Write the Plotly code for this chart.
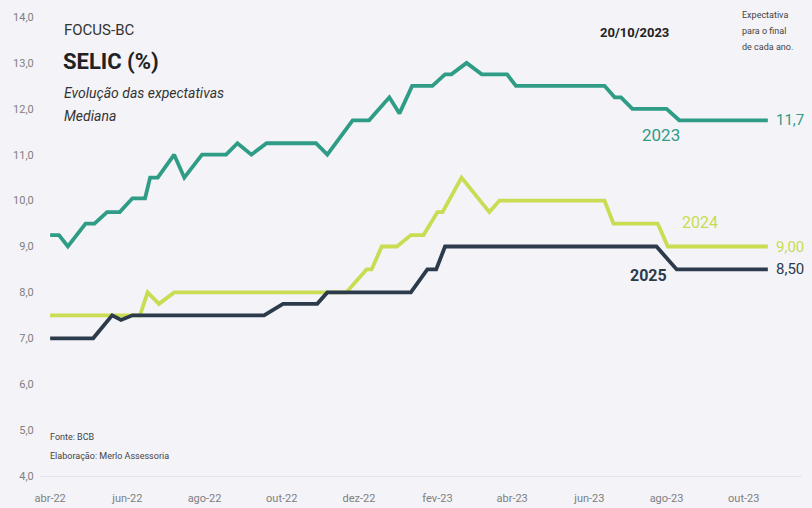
import plotly.graph_objects as go

# --- Data (vertices) ---
dates_2023 = ["2022-04-01", "2022-04-08", "2022-04-15", "2022-04-29", "2022-05-06", "2022-05-16",
              "2022-05-26", "2022-06-05", "2022-06-15", "2022-06-19", "2022-06-25", "2022-07-08",
              "2022-07-16", "2022-07-30", "2022-08-18", "2022-08-27", "2022-09-07", "2022-09-19",
              "2022-10-28", "2022-11-06", "2022-11-26", "2022-12-09", "2022-12-25", "2023-01-02",
              "2023-01-12", "2023-01-28", "2023-02-07", "2023-02-12", "2023-02-24", "2023-03-08",
              "2023-03-28", "2023-04-04", "2023-06-13", "2023-06-21", "2023-06-26", "2023-07-05",
              "2023-08-01", "2023-08-11", "2023-10-20"]
selic_2023 = [9.25, 9.25, 9.0, 9.5, 9.5, 9.75,
              9.75, 10.05, 10.05, 10.5, 10.5, 11.0,
              10.5, 11.0, 11.0, 11.25, 11.0, 11.25,
              11.25, 11.0, 11.75, 11.75, 12.25, 11.9,
              12.5, 12.5, 12.75, 12.75, 13.0, 12.75,
              12.75, 12.5, 12.5, 12.25, 12.25, 12.0,
              12.0, 11.75, 11.75]

dates_2024 = ["2022-04-01", "2022-06-11", "2022-06-17", "2022-06-26", "2022-07-08", "2022-11-21",
              "2022-12-07", "2022-12-11", "2022-12-19", "2022-12-31", "2023-01-11", "2023-01-21",
              "2023-02-01", "2023-02-05", "2023-02-20", "2023-03-14", "2023-03-22", "2023-06-13",
              "2023-06-20", "2023-07-25", "2023-08-02", "2023-10-20"]
selic_2024 = [7.5, 7.5, 8.0, 7.75, 8.0, 8.0,
              8.5, 8.5, 9.0, 9.0, 9.25, 9.25,
              9.75, 9.75, 10.5, 9.75, 10.0, 10.0,
              9.5, 9.5, 9.0, 9.0]

dates_2025 = ["2022-04-01", "2022-05-05", "2022-05-20", "2022-05-27", "2022-06-05", "2022-09-17",
              "2022-10-02", "2022-10-29", "2022-11-06", "2023-01-11", "2023-01-24", "2023-01-31",
              "2023-02-07", "2023-07-24", "2023-08-09", "2023-10-20"]
selic_2025 = [7.0, 7.0, 7.5, 7.4, 7.5, 7.5,
              7.75, 7.75, 8.0, 8.0, 8.5, 8.5,
              9.0, 9.0, 8.5, 8.5]

y_ticks = [4, 5, 6, 7, 8, 9, 10, 11, 12, 13, 14]
y_tick_text = ["4,0", "5,0", "6,0", "7,0", "8,0", "9,0", "10,0", "11,0", "12,0", "13,0", "14,0"]
x_ticks = ["2022-04-01", "2022-06-01", "2022-08-01", "2022-10-01", "2022-12-01", "2023-02-01",
           "2023-04-01", "2023-06-01", "2023-08-01", "2023-10-01"]
x_tick_text = ["abr-22", "jun-22", "ago-22", "out-22", "dez-22", "fev-23",
               "abr-23", "jun-23", "ago-23", "out-23"]

end_labels = ["11,7", "9,00", "8,50"]

C23 = "#2f9c86"
C24 = "#c9dc52"
C25 = "#2c3b4b"
BG = "#f3f3f8"
FONT = "Liberation Sans Narrow, Roboto, sans-serif"

fig = go.Figure()
for d, v, c in [(dates_2024, selic_2024, C24), (dates_2025, selic_2025, C25), (dates_2023, selic_2023, C23)]:
    fig.add_trace(go.Scatter(x=d, y=v, mode="lines", line=dict(color=c, width=3.8),
                             showlegend=False, hoverinfo="skip"))

fig.update_layout(
    width=812, height=508,
    margin=dict(l=40, r=10, t=17, b=32),
    paper_bgcolor=BG, plot_bgcolor=BG,
    font=dict(family=FONT, color="#808080", size=11),
    xaxis=dict(range=["2022-03-24", "2023-11-16"], tickvals=x_ticks, ticktext=x_tick_text,
               showgrid=False, zeroline=False, showline=True, linecolor="#e4e4ec", linewidth=1,
               ticks="outside", ticklen=12, tickcolor="rgba(0,0,0,0)", automargin=False,
               tickfont=dict(size=11, color="#808080")),
    yaxis=dict(range=[4, 14], tickvals=y_ticks, ticktext=y_tick_text, showgrid=False,
               zeroline=False, showline=False, ticks="outside", ticklen=3, tickcolor="rgba(0,0,0,0)",
               automargin=False, tickfont=dict(size=11, color="#808080")),
)

def ann(text, x, y, size, color="#333333", xanchor="left", **kw):
    fig.add_annotation(text=text, x=x, y=y, xref="paper", yref="paper", xanchor=xanchor,
                       yanchor="middle", showarrow=False,
                       font=dict(family=FONT, size=size, color=color), **kw)

# paper coordinates helpers (pixel -> paper)
def px(xp):
    return (xp - 40) / 762.0

def py(yp):
    return (476 - yp) / 459.0

ann("FOCUS-BC", px(62), py(30), 15)
ann("<b>SELIC (%)</b>", px(61), py(62), 22, color="#222222")
ann("<i>Evolução das expectativas</i>", px(62), py(93), 14)
ann("<i>Mediana</i>", px(62), py(116), 14)
ann("<b>20/10/2023</b>", px(598), py(32), 13, color="#222222")
ann("Expectativa", px(740), py(15), 9, color="#444444")
ann("para o final", px(740), py(31), 9, color="#444444")
ann("de cada ano.", px(740), py(47), 9, color="#444444")
ann("Fonte: BCB", px(48), py(437), 9, color="#444444")
ann("Elaboração: Merlo Assessoria", px(48), py(456), 9, color="#444444")

ann("2023", px(640), py(135), 17, color=C23)
ann("2024", px(680), py(222), 16, color=C24)
ann("<b>2025</b>", px(628), py(276), 16, color=C25)

for lbl, v, c in zip(end_labels, [selic_2023[-1], selic_2024[-1], selic_2025[-1]], [C23, C24, C25]):
    fig.add_annotation(text=lbl, x=dates_2023[-1], y=v, xref="x", yref="y", xanchor="left",
                       yanchor="middle", xshift=6, showarrow=False,
                       font=dict(family=FONT, size=15, color=c))

fig.write_html("out.html")
